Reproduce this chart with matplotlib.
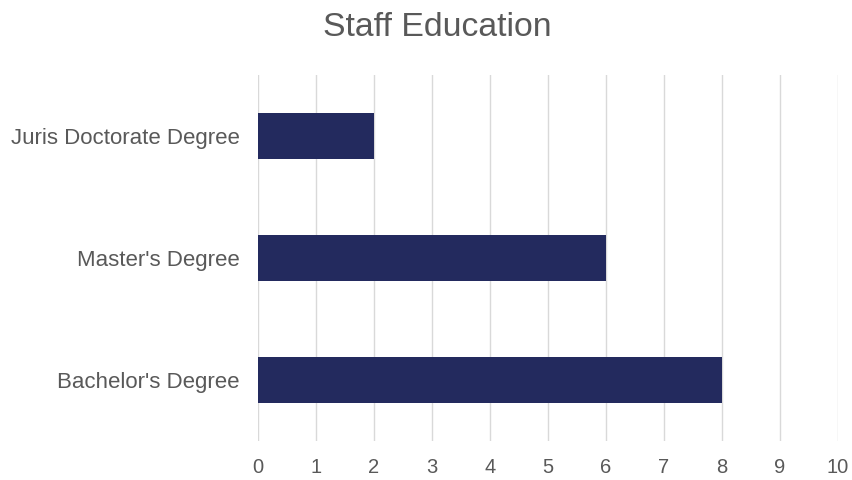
import matplotlib.pyplot as plt

# Datos del gráfico
titulos = ["Bachelor's Degree", "Master's Degree", "Juris Doctorate Degree"]
personal = [8, 6, 2]
ticks_x = list(range(0, 11))

plt.rcParams['font.family'] = ['Liberation Sans', 'DejaVu Sans']
gris_texto = '#595959'

fig = plt.figure(figsize=(8.52, 4.8), dpi=100)
ax = fig.add_axes([258 / 852, 1 - 441 / 480, 580 / 852, 366 / 480])

ax.barh(titulos, personal, height=0.37, color='#232a5e', zorder=3)

ax.set_xlim(0, 10)
ax.set_ylim(-0.5, 2.5)
ax.set_xticks(ticks_x)
ax.grid(axis='x', color='#d9d9d9', linewidth=1, zorder=0)
ax.grid(axis='y', visible=False)

for lado in ['top', 'right', 'bottom', 'left']:
    ax.spines[lado].set_visible(False)

ax.tick_params(axis='both', length=0, labelcolor=gris_texto)
ax.tick_params(axis='y', pad=13, labelsize=16)
ax.tick_params(axis='x', pad=12, labelsize=14.5)

fig.text(437 / 852, 1 - 27 / 480, "Staff Education", ha='center', va='center',
         fontsize=24.3, color=gris_texto)

plt.savefig('out.png', dpi=100)
